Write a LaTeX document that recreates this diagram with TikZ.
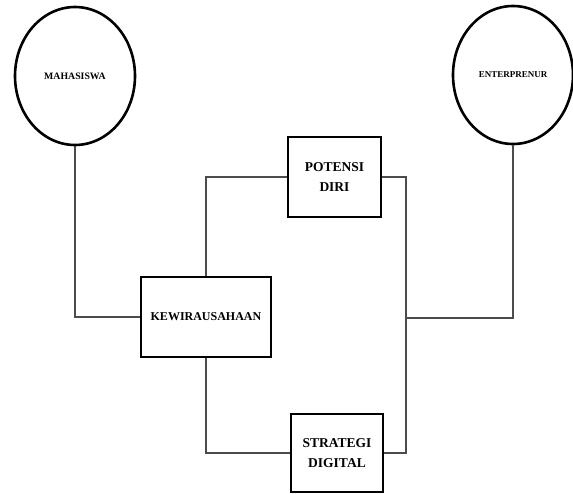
\documentclass[tikz,border=0pt]{standalone}
\usepackage{fontspec}
\setmainfont{Liberation Serif}
\usetikzlibrary{shapes.geometric}

\begin{document}
\begin{tikzpicture}[x=1pt,y=-1pt]
\tikzset{actor/.style = {shape=ellipse,draw,line width=2.6pt,minimum width=120pt,minimum height=138pt,font=\bfseries\fontsize{9}{11}\selectfont}}
\tikzset{block/.style = {shape=rectangle,draw,line width=1.9pt,align=center,font=\bfseries\fontsize{13.5}{20}\selectfont}}
\tikzset{edge/.style = {draw=black!70,line width=1.3pt}}
\useasboundingbox (0,0) rectangle (573,493);
% vertices
\node[actor,font=\bfseries\fontsize{9.8}{11}\selectfont] (mhs) at (75,76) {MAHASISWA};
\node[actor] (ent) at (513,75) {ENTERPRENUR};
\node[block,minimum width=93pt,minimum height=80pt] (pot) at (334.5,177) {POTENSI\\DIRI};
\node[block,minimum width=130pt,minimum height=80pt,font=\bfseries\fontsize{12}{14}\selectfont] (kew) at (206,317) {KEWIRAUSAHAAN};
\node[block,minimum width=92pt,minimum height=78pt] (str) at (337,453) {STRATEGI\\DIGITAL};
\coordinate (rj) at (406,318);
%edges
\draw[edge] (mhs.south) |- (kew.west);
\draw[edge] (pot.west) -| (kew.north);
\draw[edge] (kew.south) |- (str.west);
\draw[edge] (pot.east) -| (rj) |- (str.east);
\draw[edge] (ent.south) |- (rj);
\end{tikzpicture}
\end{document}
